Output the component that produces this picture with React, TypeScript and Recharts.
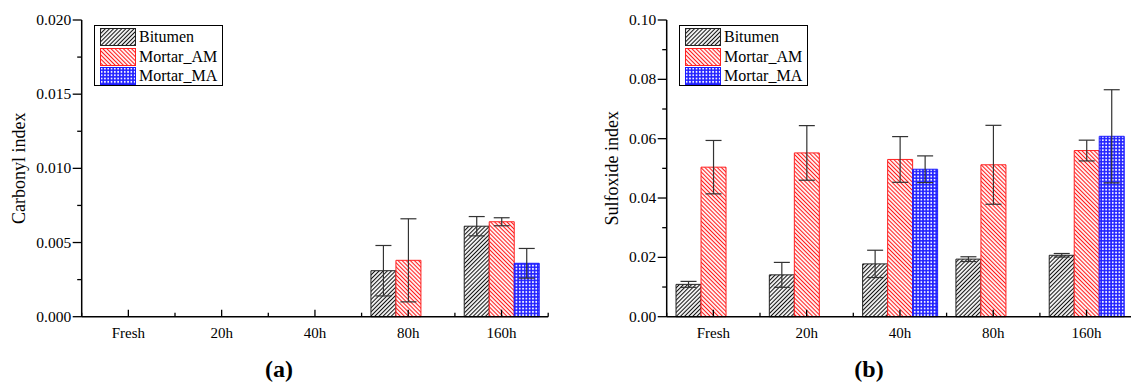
import React from 'react';
import { BarChart, Bar, XAxis, YAxis, ErrorBar } from 'recharts';

const categories = ['Fresh', '20h', '40h', '80h', '160h'];

const carbonylBitumen = [null, null, null, 0.0031, 0.0061];
const carbonylBitumenErr = [null, null, null, 0.0017, 0.00065];
const carbonylAM = [null, null, null, 0.0038, 0.0064];
const carbonylAMErr = [null, null, null, 0.0028, 0.00027];
const carbonylMA = [null, null, null, null, 0.0036];
const carbonylMAErr = [null, null, null, null, 0.001];

const sulfoxideBitumen = [0.0109, 0.0141, 0.0178, 0.0194, 0.0207];
const sulfoxideBitumenErr = [0.001, 0.0042, 0.0046, 0.0008, 0.0006];
const sulfoxideAM = [0.0504, 0.0552, 0.053, 0.0512, 0.056];
const sulfoxideAMErr = [0.009, 0.0092, 0.0077, 0.0133, 0.0035];
const sulfoxideMA = [null, null, 0.0497, null, 0.0608];
const sulfoxideMAErr = [null, null, 0.0045, null, 0.0157];

const carbonylTicks = [0, 0.0025, 0.005, 0.0075, 0.01, 0.0125, 0.015, 0.0175, 0.02];
const sulfoxideTicks = [0, 0.01, 0.02, 0.03, 0.04, 0.05, 0.06, 0.07, 0.08, 0.09, 0.1];

const seriesNames = ['Bitumen', 'Mortar_AM', 'Mortar_MA'];
const seriesFills = ['url(#pBit)', 'url(#pAM)', 'url(#pMA)'];
const seriesStrokes = ['#222', '#ff2020', '#1a1aff'];

const FONT = '"Liberation Serif", "Times New Roman", serif';
const PLOT_W = 466.5;
const CHART_H = 387;

function buildData(b, be, a, ae, m, me) {
  return categories.map((c, i) => ({
    cat: c,
    bit: b[i], bitErr: be[i],
    am: a[i], amErr: ae[i],
    ma: m[i], maErr: me[i],
  }));
}

const carbonylData = buildData(carbonylBitumen, carbonylBitumenErr, carbonylAM, carbonylAMErr, carbonylMA, carbonylMAErr);
const sulfoxideData = buildData(sulfoxideBitumen, sulfoxideBitumenErr, sulfoxideAM, sulfoxideAMErr, sulfoxideMA, sulfoxideMAErr);

const band = PLOT_W / categories.length;

const BottomTick = (props) => {
  const { x, y, payload, index, visibleTicksCount } = props;
  return (
    <g>
      <line x1={x} x2={x} y1={y} y2={y - 7} stroke="#000" strokeWidth={1.3} />
      <line x1={x - band / 2} x2={x - band / 2} y1={y} y2={y - 4} stroke="#000" strokeWidth={1.3} />
      {index === visibleTicksCount - 1 && (
        <line x1={x + band / 2} x2={x + band / 2} y1={y} y2={y - 4} stroke="#000" strokeWidth={1.3} />
      )}
      <text x={x} y={y + 21} textAnchor="middle" fontFamily={FONT} fontSize={15} fill="#000">
        {payload.value}
      </text>
    </g>
  );
};

const TopTick = (props) => {
  const { x, y, index, visibleTicksCount } = props;
  return (
    <g>
      <line x1={x} x2={x} y1={y} y2={y + 4} stroke="#000" strokeWidth={1} />
      <line x1={x - band / 2} x2={x - band / 2} y1={y} y2={y + 3} stroke="#000" strokeWidth={1} />
      {index === visibleTicksCount - 1 && (
        <line x1={x + band / 2} x2={x + band / 2} y1={y} y2={y + 3} stroke="#000" strokeWidth={1} />
      )}
    </g>
  );
};

const makeLeftTick = (digits) => (props) => {
  const { x, y, payload, index } = props;
  const major = index % 2 === 0;
  return (
    <g>
      <line x1={x} x2={x - (major ? 9 : 4.5)} y1={y} y2={y} stroke="#000" strokeWidth={1.3} />
      {major && (
        <text x={x - 10.5} y={y} dy={5} textAnchor="end" fontFamily={FONT} fontSize={15.5} fill="#000">
          {Number(payload.value).toFixed(digits)}
        </text>
      )}
    </g>
  );
};

const RightTick = (props) => {
  const { x, y, index } = props;
  const major = index % 2 === 0;
  return <line x1={x} x2={x - (major ? 5 : 3)} y1={y} y2={y} stroke="#000" strokeWidth={1} />;
};

function Panel({ data, width, yAxisWidth, marginRight, domain, ticks, digits, label, labelX }) {
  const LeftTick = makeLeftTick(digits);
  const axisLine = { stroke: '#000', strokeWidth: 1.5 };
  return (
    <BarChart
      width={width}
      height={CHART_H}
      data={data}
      margin={{ top: 20, right: marginRight, left: 0, bottom: 40.3 }}
      barCategoryGap="10%"
      barGap={0}
    >
      <XAxis
        xAxisId="b"
        dataKey="cat"
        height={30}
        tickSize={0}
        tickMargin={0}
        tickLine={false}
        axisLine={axisLine}
        tick={BottomTick}
        interval={0}
      />
      <XAxis
        xAxisId="t"
        dataKey="cat"
        orientation="top"
        height={0}
        tickSize={0}
        tickMargin={0}
        tickLine={false}
        axisLine={axisLine}
        tick={TopTick}
        interval={0}
      />
      <YAxis
        yAxisId="l"
        width={yAxisWidth}
        domain={domain}
        ticks={ticks}
        interval={0}
        tickSize={0}
        tickMargin={0}
        tickLine={false}
        axisLine={axisLine}
        tick={LeftTick}
        label={(p) => {
          const vb = p.viewBox || {};
          const cx = (vb.x || 0) + labelX;
          const cy = (vb.y || 0) + (vb.height || 0) / 2;
          return (
            <text
              x={cx}
              y={cy}
              transform={`rotate(-90 ${cx} ${cy})`}
              textAnchor="middle"
              dominantBaseline="central"
              fontFamily={FONT}
              fontSize={18}
              fill="#000"
            >
              {label}
            </text>
          );
        }}
      />
      <YAxis
        yAxisId="r"
        orientation="right"
        width={0}
        domain={domain}
        ticks={ticks}
        interval={0}
        tickSize={0}
        tickMargin={0}
        tickLine={false}
        axisLine={axisLine}
        tick={RightTick}
      />
      <Bar xAxisId="b" yAxisId="l" dataKey="bit" name={seriesNames[0]} fill={seriesFills[0]} stroke={seriesStrokes[0]} strokeWidth={1} isAnimationActive={false}>
        <ErrorBar dataKey="bitErr" width={8} stroke="#333" strokeWidth={1.2} direction="y" />
      </Bar>
      <Bar xAxisId="b" yAxisId="l" dataKey="am" name={seriesNames[1]} fill={seriesFills[1]} stroke={seriesStrokes[1]} strokeWidth={1} isAnimationActive={false}>
        <ErrorBar dataKey="amErr" width={8} stroke="#333" strokeWidth={1.2} direction="y" />
      </Bar>
      <Bar xAxisId="b" yAxisId="l" dataKey="ma" name={seriesNames[2]} fill={seriesFills[2]} stroke={seriesStrokes[2]} strokeWidth={1} isAnimationActive={false}>
        <ErrorBar dataKey="maErr" width={8} stroke="#333" strokeWidth={1.2} direction="y" />
      </Bar>
    </BarChart>
  );
}

function LegendBox({ left, top }) {
  return (
    <div
      style={{
        position: 'absolute',
        left,
        top,
        width: 127,
        height: 59,
        border: '1px solid #000',
        background: '#fff',
        boxSizing: 'content-box',
      }}
    >
      {seriesNames.map((n, i) => (
        <div key={n} style={{ position: 'absolute', left: 5, top: 2 + i * 19.5, height: 18, display: 'flex', alignItems: 'center' }}>
          <svg width={36} height={18} style={{ display: 'block' }}>
            <rect x={0.5} y={0.5} width={35} height={17} fill={seriesFills[i]} stroke={seriesStrokes[i]} strokeWidth={1} />
          </svg>
          <span style={{ marginLeft: 3, fontFamily: FONT, fontSize: 16, lineHeight: '18px', color: '#000', whiteSpace: 'nowrap' }}>{n}</span>
        </div>
      ))}
    </div>
  );
}

export default function App() {
  return (
    <div
      style={{
        position: 'absolute',
        left: 0,
        top: 0,
        width: 1131,
        height: 387,
        overflow: 'hidden',
        background: '#fff',
      }}
    >
      <svg width={0} height={0} style={{ position: 'absolute' }}>
        <defs>
          <pattern id="pBit" patternUnits="userSpaceOnUse" width={2.9} height={2.9} patternTransform="rotate(45)">
            <rect width={2.9} height={2.9} fill="#fff" />
            <line x1={1.45} y1={0} x2={1.45} y2={2.9} stroke="#111" strokeWidth={1.1} />
          </pattern>
          <pattern id="pAM" patternUnits="userSpaceOnUse" width={2.9} height={2.9} patternTransform="rotate(-45)">
            <rect width={2.9} height={2.9} fill="#fff" />
            <line x1={1.45} y1={0} x2={1.45} y2={2.9} stroke="#ff1a1a" strokeWidth={1.1} />
          </pattern>
          <pattern id="pMA" patternUnits="userSpaceOnUse" width={3.3} height={3.3}>
            <rect width={3.3} height={3.3} fill="#2222ff" />
            <circle cx={1.65} cy={1.65} r={0.95} fill="#fff" />
          </pattern>
        </defs>
      </svg>
      <div style={{ position: 'absolute', left: 0, top: 0 }}>
        <Panel
          data={carbonylData}
          width={560}
          yAxisWidth={81.7}
          marginRight={560 - 81.7 - PLOT_W}
          domain={[0, 0.02]}
          ticks={carbonylTicks}
          digits={3}
          label="Carbonyl index"
          labelX={19}
        />
      </div>
      <div style={{ position: 'absolute', left: 560, top: 0 }}>
        <Panel
          data={sulfoxideData}
          width={600}
          yAxisWidth={106.7}
          marginRight={600 - 106.7 - PLOT_W}
          domain={[0, 0.1]}
          ticks={sulfoxideTicks}
          digits={2}
          label="Sulfoxide index"
          labelX={52}
        />
      </div>
      <LegendBox left={94} top={25} />
      <LegendBox left={679} top={25} />
      <div style={{ position: 'absolute', left: 259, top: 356, width: 40, textAlign: 'center', fontFamily: FONT, fontWeight: 'bold', fontSize: 24, color: '#000' }}>(a)</div>
      <div style={{ position: 'absolute', left: 849, top: 356, width: 40, textAlign: 'center', fontFamily: FONT, fontWeight: 'bold', fontSize: 24, color: '#000' }}>(b)</div>
    </div>
  );
}
